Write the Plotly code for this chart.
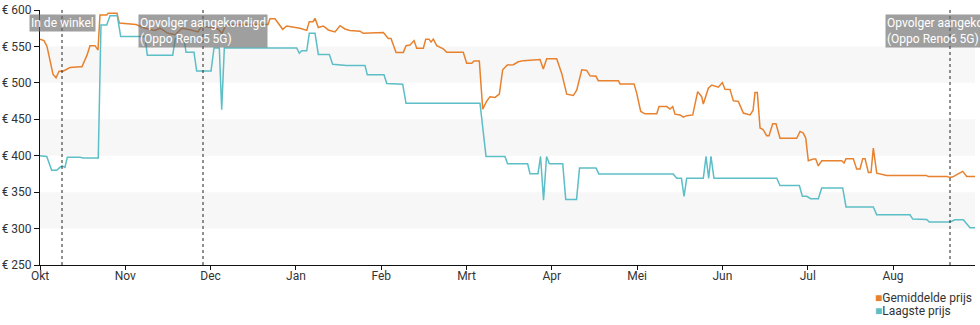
import plotly.graph_objects as go

# x positions are expressed in months since 1 Oct (0 = Okt, 1 = Nov, ...)
month_labels = ["Okt", "Nov", "Dec", "Jan", "Feb", "Mrt", "Apr", "Mei", "Jun", "Jul", "Aug"]
month_ticks = list(range(len(month_labels)))

avg_x = [0, 0.047, 0.082, 0.117, 0.152, 0.188, 0.223, 0.270, 0.317, 0.352, 0.469, 0.492, 0.551, 0.586,
         0.645, 0.680, 0.703, 0.782, 0.801, 0.903, 0.930, 1.125, 1.231, 1.348, 1.407, 1.500, 1.583,
         1.665, 1.758, 1.852, 1.899, 1.993, 2.087, 2.134, 2.181, 2.673, 2.696, 2.755, 2.845, 2.892,
         2.966, 3.048, 3.127, 3.157, 3.200, 3.224, 3.263, 3.321, 3.380, 3.458, 3.517, 3.576, 3.634,
         3.751, 3.790, 4.025, 4.083, 4.115, 4.174, 4.259, 4.291, 4.338, 4.385, 4.416, 4.494, 4.522,
         4.560, 4.584, 4.611, 4.651, 4.728, 4.768, 4.962, 5.002, 5.061, 5.088, 5.150, 5.190, 5.237,
         5.275, 5.334, 5.385, 5.424, 5.478, 5.549, 5.607, 5.666, 5.862, 5.900, 5.940, 6.057, 6.116,
         6.175, 6.252, 6.292, 6.351, 6.409, 6.448, 6.518, 6.545, 6.780, 6.800, 6.964, 6.995, 7.042,
         7.093, 7.230, 7.257, 7.347, 7.386, 7.417, 7.444, 7.503, 7.542, 7.581, 7.652, 7.710, 7.757,
         7.776, 7.835, 7.875, 7.952, 7.999, 8.030, 8.089, 8.128, 8.186, 8.245, 8.324, 8.359, 8.382,
         8.409, 8.441, 8.476, 8.519, 8.546, 8.590, 8.628, 8.675, 8.871, 8.910, 8.948, 8.977, 9.007,
         9.066, 9.094, 9.124, 9.164, 9.399, 9.426, 9.449, 9.534, 9.574, 9.613, 9.645, 9.672, 9.711,
         9.742, 9.769, 9.809, 9.926, 10.160, 10.199, 10.238, 10.387, 10.414, 10.630, 10.668, 10.703,
         10.747, 10.817, 10.864, 10.961]
avg_price = [560, 558, 550, 530, 512, 507, 516, 516, 519, 521, 522, 522, 538, 551,
             551, 545, 593, 593, 595.5, 595.5, 582, 580, 575, 572, 575, 568, 566,
             575, 573, 570, 578, 576, 574, 568, 580, 580, 588, 588, 573.5, 578,
             577, 575, 572, 584, 584, 588.6, 576, 578, 572.6, 570, 578.5, 574, 572,
             571, 568, 569, 561, 561, 541.5, 541.5, 551, 552, 558, 547.5, 547.5, 560,
             560, 556, 560, 551, 546.6, 542, 542, 527, 527, 530, 530, 464, 475,
             481, 480, 484.5, 518, 524.6, 525, 529, 530.5, 532, 519, 533, 533, 513,
             484.5, 482.6, 490, 518, 517, 509.6, 509, 503, 503, 498.6, 498.6, 486, 460.7,
             457.5, 457.5, 467.5, 467.5, 464, 467.5, 457, 456, 453, 455, 456, 488, 481,
             471, 492.7, 497, 494, 500.4, 491.3, 491, 475.3, 474.6, 458.5, 456, 462, 486.7,
             486.7, 438, 436, 427.4, 427.4, 443.8, 443.8, 424, 424, 433.3, 431, 424, 393,
             395.4, 395.4, 386, 393, 393, 390, 396, 396, 381.7, 381.7, 396, 396, 377,
             377, 410.5, 376, 373, 373, 374, 374, 373, 371.6, 371.6, 370, 371,
             374, 378.5, 371.6, 371.6]

low_x = [0, 0.079, 0.137, 0.196, 0.234, 0.258, 0.293, 0.320, 0.469, 0.508, 0.683, 0.715, 0.782,
         0.821, 0.906, 0.946, 1.231, 1.258, 1.556, 1.586, 1.688, 1.712, 1.805, 1.837, 2.005, 2.040,
         2.102, 2.130, 2.161, 3.009, 3.040, 3.068, 3.127, 3.157, 3.224, 3.263, 3.392, 3.431, 3.596,
         3.810, 3.837, 4.033, 4.065, 4.252, 4.291, 5.158, 5.229, 5.451, 5.481, 5.717, 5.744, 5.838,
         5.868, 5.903, 5.938, 5.971, 6.128, 6.163, 6.290, 6.325, 6.518, 6.551, 7.424, 7.464, 7.520,
         7.550, 7.581, 7.776, 7.808, 7.839, 7.866, 7.901, 8.637, 8.675, 8.902, 8.937, 8.988, 9.035,
         9.124, 9.164, 9.410, 9.449, 9.769, 9.809, 10.199, 10.231, 10.395, 10.425, 10.668, 10.727,
         10.824, 10.903, 10.961]
low_price = [400, 399, 380, 380, 384, 386, 384, 398, 398, 397, 397, 579.5, 579.5,
             592, 592, 563.5, 563.5, 538, 538, 561, 561, 542, 542, 516.4, 516.4, 548,
             548, 463, 548, 548, 540.6, 544, 544, 568, 568, 539, 539, 525.6, 523.7,
             523.7, 511, 511, 499, 498, 472, 472, 399, 399, 389, 389, 375.3, 375.3,
             399, 339, 399, 389, 389, 340, 340, 383, 383, 375, 375, 369, 369,
             344, 369, 369, 399, 369, 399, 369, 369, 359, 359, 344.3, 344.3, 341,
             341, 355.7, 355.7, 329.7, 329.7, 319, 319, 313, 312.5, 309, 309, 312,
             312, 301, 301]

event_x = [0.258, 1.911, 10.668]
event_text = ["In de winkel",
              "Opvolger aangekondigd<br>(Oppo Reno5 5G)",
              "Opvolger aangekondigd<br>(Oppo Reno6 5G)"]

series_names = ["Gemiddelde prijs", "Laagste prijs"]
series_colors = ["#e8812d", "#5cbec6"]

FONT = "Roboto, 'Open Sans', sans-serif"

fig = go.Figure()
fig.add_trace(go.Scatter(x=avg_x, y=avg_price, mode="lines", name=series_names[0],
                         line=dict(color=series_colors[0], width=1.5), showlegend=False,
                         hoverinfo="skip"))
fig.add_trace(go.Scatter(x=low_x, y=low_price, mode="lines", name=series_names[1],
                         line=dict(color=series_colors[1], width=1.5), showlegend=False,
                         hoverinfo="skip"))

# alternating light bands
for y0 in [300, 400, 500]:
    fig.add_shape(type="rect", xref="paper", x0=0, x1=1, yref="y", y0=y0, y1=y0 + 50,
                  fillcolor="#f7f7f7", line=dict(width=0), layer="below")

for ex, txt in zip(event_x, event_text):
    fig.add_shape(type="line", xref="x", x0=ex, x1=ex, yref="paper", y0=0, y1=1,
                  line=dict(color="#222", width=1, dash="dot"))
    fig.add_annotation(x=ex, xref="x", y=0.984, yref="paper", yanchor="top", xanchor="center",
                       text=txt, showarrow=False, align="left",
                       font=dict(family=FONT, size=12, color="white"),
                       bgcolor="rgba(105,105,105,0.64)", borderpad=1)

# legend (bottom right) as coloured squares + names
legend_y = [-0.129, -0.180]
for name, color, ly in zip(series_names, series_colors, legend_y):
    fig.add_annotation(x=0.891, xref="paper", y=ly, yref="paper", xanchor="left", yanchor="middle",
                       text=f"<span style='color:{color}'>■</span>{name}", showarrow=False,
                       font=dict(family=FONT, size=12, color="#333"))

fig.update_layout(
    width=980, height=325,
    margin=dict(l=40, r=5, t=10, b=60, autoexpand=False),
    paper_bgcolor="white", plot_bgcolor="white",
    font=dict(family=FONT, size=12, color="#333"),
    xaxis=dict(range=[0, 10.961], tickvals=month_ticks, ticktext=month_labels,
               showgrid=False, zeroline=False, showline=True, linecolor="#111", linewidth=1,
               ticks="outside", ticklen=4, tickcolor="#111", automargin=False,
               ticklabelstandoff=-4,
               tickfont=dict(family=FONT, size=12, color="#333")),
    yaxis=dict(range=[250, 600], dtick=50, tickprefix="€ ", automargin=False,
               showgrid=False, zeroline=False, showline=True, linecolor="#111", linewidth=1,
               ticks="outside", ticklen=5, tickcolor="#111",
               tickfont=dict(family=FONT, size=12, color="#333")),
    showlegend=False,
)

fig.write_html("out.html")
